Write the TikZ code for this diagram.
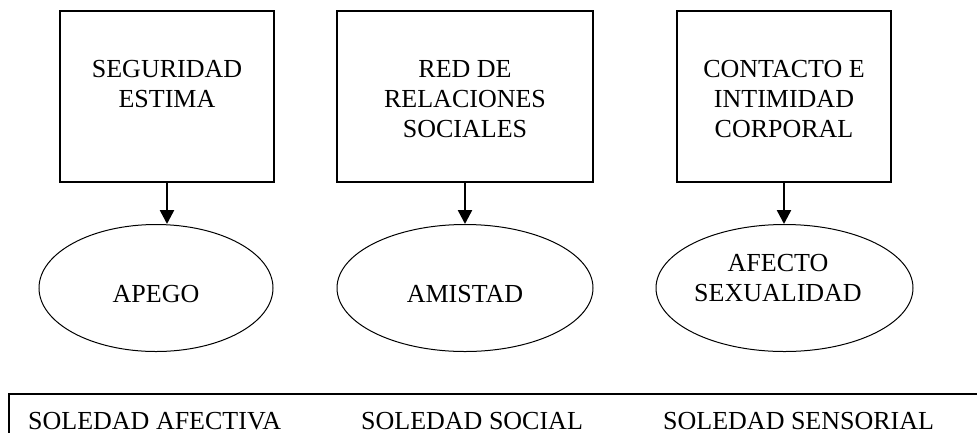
\documentclass[tikz,border=0pt]{standalone}
\usepackage{fontspec}
\setmainfont{Liberation Serif}
\usetikzlibrary{shapes.geometric,arrows.meta}
\begin{document}
\begin{tikzpicture}[x=1pt,y=-1pt,
  txt/.style={font=\fontsize{26}{30}\selectfont, align=center, inner sep=0pt},
  boxnode/.style={draw, line width=1.2pt, minimum height=171pt, inner sep=0pt},
  ellnode/.style={draw, ellipse, line width=1pt, minimum height=127pt, inner sep=0pt},
  arr/.style={line width=2.5pt, -{Triangle[width=14pt,length=14pt]}}]
\useasboundingbox (0,0) rectangle (977,432);
% boxes
\node[boxnode, minimum width=214pt] (b1) at (167,96.5) {};
\node[boxnode, minimum width=256pt] (b2) at (465,96.5) {};
\node[boxnode, minimum width=214pt] (b3) at (784,96.5) {};
\node[txt, anchor=north] (t1) at (167,60.5) {SEGURIDAD\\ESTIMA};
\node[txt, anchor=north] (t2) at (465,60.5) {RED DE\\RELACIONES\\SOCIALES};
\node[txt, anchor=north] (t3) at (784,60.5) {CONTACTO E\\INTIMIDAD\\CORPORAL};
% ellipses
\node[ellnode, minimum width=234pt] (e1) at (156,288) {};
\node[ellnode, minimum width=256pt] (e2) at (465,288) {};
\node[ellnode, minimum width=257pt] (e3) at (784.5,288) {};
\node[txt, anchor=base] (l1) at (156,302) {APEGO};
\node[txt, anchor=base] (l2) at (465,302) {AMISTAD};
\node[txt, anchor=north] (l3) at (778,254.5) {AFECTO\\SEXUALIDAD};
% arrows
\draw[arr] (b1.south) -- (b1.south |- e1.north);
\draw[arr] (b2.south) -- (b2.south |- e2.north);
\draw[arr] (b3.south) -- (b3.south |- e3.north);
% bottom frame
\coordinate (fr) at (980,394);
\coordinate (fl) at (9,394);
\coordinate (fb) at (9,440);
\draw[line width=1.2pt] (fr) -- (fl) -- (fb);
\node[txt, anchor=base west] (s1) at (28,429) {SOLEDAD AFECTIVA};
\node[txt, anchor=base west] (s2) at (361,429) {SOLEDAD SOCIAL};
\node[txt, anchor=base west] (s3) at (663,429) {SOLEDAD SENSORIAL};
\end{tikzpicture}
\end{document}
